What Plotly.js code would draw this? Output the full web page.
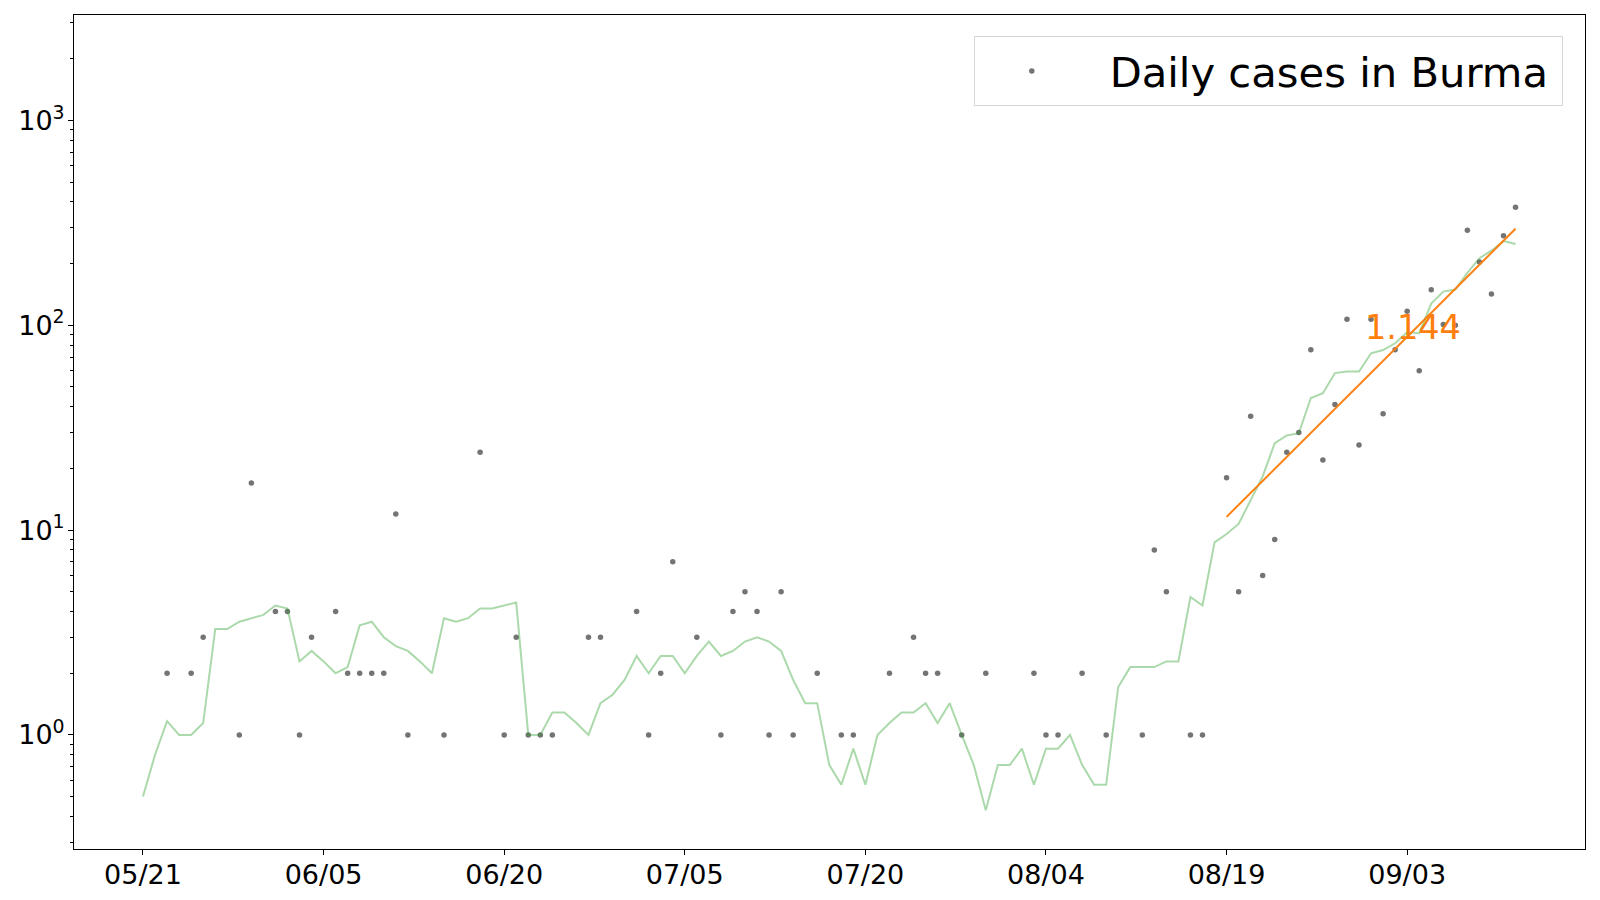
<!DOCTYPE html>
<html><head><meta charset="utf-8">
<script src="https://cdn.plot.ly/plotly-3.0.1.min.js"></script>
<style>html,body{margin:0;padding:0;background:#fff;} #chart{width:1600px;height:900px;}</style>
</head><body><div id="chart"></div>
<script>
// ---- data ----
const startDate = '2020-05-21';
const dailyCases = [0,0,2,0,2,3,0,0,1,17,
  0,4,4,1,3,0,4,2,2,2,
  2,12,1,0,0,1,0,0,24,0,
  1,3,1,1,1,0,0,3,3,0,
  0,4,1,2,7,0,3,0,1,4,
  5,4,1,5,1,0,2,0,1,1,
  0,0,2,0,3,2,2,0,1,0,
  2,0,0,0,2,1,1,0,2,0,
  1,0,0,1,8,5,0,1,1,0,
  18,5,36,6,9,24,30,76,22,41,
  107,26,107,37,76,117,60,149,101,100,
  291,204,142,274,377];
const rollingMean = [0.5,0.8,1.167,1,1,1.143,3.286,3.286,3.571,3.714,
  3.857,4.286,4.143,2.286,2.571,2.286,2.0,2.143,3.429,3.571,
  3.0,2.714,2.571,2.286,2.0,3.714,3.571,3.714,4.143,4.143,
  4.286,4.429,1,1,1.286,1.286,1.143,1,1.429,1.571,
  1.857,2.429,2.0,2.429,2.429,2.0,2.429,2.857,2.429,2.571,
  2.857,3.0,2.857,2.571,1.857,1.429,1.429,0.714,0.571,0.857,
  0.571,1,1.143,1.286,1.286,1.429,1.143,1.429,1,0.714,
  0.429,0.714,0.714,0.857,0.571,0.857,0.857,1,0.714,0.571,
  0.571,1.714,2.143,2.143,2.143,2.286,2.286,4.714,4.286,8.714,
  9.571,10.714,14.0,18.286,26.571,29.0,29.714,44.143,46.571,58.429,
  59.429,59.429,73.0,75.714,81.714,92.429,91.429,127.714,146.0,149.571,
  180.143,212.714,231.333,257.6,249.25];
const fitDates = ['2020-08-19','2020-09-12'];
const fitValues = [11.6, 296];
const growthLabel = '1.144';
const growthLabelPos = {date: '2020-09-03 12:30', value: 100};
const legendName = 'Daily cases in Burma';
const xTickDates = ['2020-05-21','2020-06-05','2020-06-20','2020-07-05','2020-07-20','2020-08-04','2020-08-19','2020-09-03'];
const xTickLabels = ['05/21','06/05','06/20','07/05','07/20','08/04','08/19','09/03'];
const yTickVals = [1,10,100,1000];
const yTickLabels = ['10<sup>0</sup>','10<sup>1</sup>','10<sup>2</sup>','10<sup>3</sup>'];
const yMinorVals = [0.3,0.4,0.5,0.6,0.7,0.8,0.9,2,3,4,5,6,7,8,9,20,30,40,50,60,70,80,90,200,300,400,500,600,700,800,900,2000,3000];
const xRange = ['2020-05-15 06:29','2020-09-17 18:29'];
const yRangeLog = [-0.557, 3.515];

// ---- build dates ----
function addDays(s, n){
  const d = new Date(s + 'T00:00:00Z');
  d.setUTCDate(d.getUTCDate() + n);
  return d.toISOString().slice(0,10);
}
const dates = dailyCases.map((_, i) => addDays(startDate, i));

const font = 'DejaVu Sans, sans-serif';

const traces = [
  {
    x: dates, y: dailyCases.map(v => v > 0 ? v : null),
    type: 'scatter', mode: 'markers', name: '\u2002' + legendName + '\u2009',
    marker: {color: '#747474', size: 5.5},
    showlegend: true
  },
  {
    x: dates, y: rollingMean,
    type: 'scatter', mode: 'lines',
    line: {color: 'rgba(44,160,44,0.4)', width: 2},
    showlegend: false, hoverinfo: 'skip'
  },
  {
    x: fitDates, y: fitValues,
    type: 'scatter', mode: 'lines',
    line: {color: '#ff7f0e', width: 2},
    showlegend: false
  }
];

const layout = {
  width: 1600, height: 900,
  margin: {l: 74, r: 15, t: 15, b: 51, pad: 0},
  paper_bgcolor: '#fff', plot_bgcolor: '#fff',
  font: {family: font, color: '#000', size: 27},
  xaxis: {
    type: 'date', range: xRange,
    tickmode: 'array', tickvals: xTickDates, ticktext: xTickLabels,
    ticks: 'outside', ticklen: 5, tickwidth: 1, tickcolor: '#000',
    ticklabelstandoff: -3,
    showline: true, linecolor: '#000', linewidth: 1, mirror: true,
    showgrid: false, zeroline: false,
    tickfont: {family: font, size: 27, color: '#000'}
  },
  yaxis: {
    type: 'log', range: yRangeLog,
    tickmode: 'array', tickvals: yTickVals, ticktext: yTickLabels,
    ticks: 'outside', ticklen: 5, tickwidth: 1, tickcolor: '#000',
    ticklabelstandoff: -2,
    showline: true, linecolor: '#000', linewidth: 1, mirror: true,
    showgrid: false, zeroline: false,
    tickfont: {family: font, size: 27, color: '#000'},
    minor: {tickmode: 'array', tickvals: yMinorVals, ticks: 'outside', ticklen: 3, tickwidth: 1, tickcolor: '#000', showgrid: false}
  },
  legend: {
    x: 0.9853, xanchor: 'right', y: 0.9743, yanchor: 'top',
    bgcolor: '#fff', bordercolor: '#d6d6d6', borderwidth: 1,
    font: {family: font, size: 41.7, color: '#000'},
    itemwidth: 104
  },
  annotations: [{
    x: growthLabelPos.date, y: Math.log10(growthLabelPos.value), xref: 'x', yref: 'y',
    text: growthLabel, showarrow: false, xanchor: 'center', yanchor: 'middle', yshift: -2,
    font: {family: font, size: 33.5, color: '#ff7f0e'}
  }],
  showlegend: true
};

Plotly.newPlot('chart', traces, layout, {displayModeBar: false, staticPlot: true});
</script>
</body></html>
